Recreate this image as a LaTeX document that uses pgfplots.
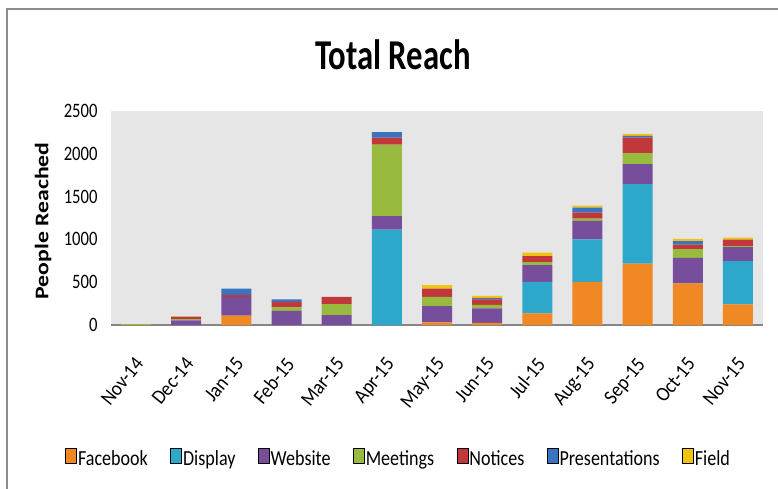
\documentclass[border=0pt]{standalone}
\usepackage{fontspec}
\usepackage{pgfplots}
\pgfplotsset{compat=1.18}
\usepackage{pgfplotstable}
\setmainfont{Carlito}
\newfontfamily\tickfont{Carlito}[FakeStretch=0.81]
\newfontfamily\xtickfont{Carlito}[FakeStretch=0.91]
\newfontfamily\legfont{Carlito}[FakeStretch=0.84]
\newfontfamily\titlefont{Carlito}[FakeStretch=0.77]
\newfontfamily\ylabfont{Carlito}[FakeStretch=1.23]

\definecolor{cFb}{RGB}{240,136,36}
\definecolor{cDi}{RGB}{46,168,202}
\definecolor{cWe}{RGB}{118,78,156}
\definecolor{cMe}{RGB}{152,186,62}
\definecolor{cNo}{RGB}{192,56,58}
\definecolor{cPr}{RGB}{58,116,192}
\definecolor{cFi}{RGB}{240,194,20}
\definecolor{plotbg}{RGB}{230,230,230}
\definecolor{axgray}{RGB}{134,134,134}

\pgfplotstableread{
x F D W M N P Fi
0 0 0 0 10 0 0 0
1 0 0 55 15 27 0 0
2 110 0 220 0 20 75 0
3 0 0 165 40 65 30 0
4 0 0 115 130 85 0 0
5 0 1113 160 835 80 65 0
6 30 0 190 110 95 0 40
7 25 0 170 40 65 15 25
8 135 370 195 35 70 0 40
9 505 495 215 28 70 58 23
10 717 930 232 128 182 20 23
11 485 0 300 100 55 40 25
12 240 505 165 12 75 0 25
}\datatable

\begin{document}
\begin{tikzpicture}[x=1pt,y=1pt]
\path[use as bounding box] (0,0) rectangle (778,488);
\draw[black!45, line width=1.2pt] (7,-20) -- (7,479) -- (800,479);
\begin{axis}[
  at={(111pt,163pt)}, anchor=south west,
  scale only axis, width=652pt, height=214pt,
  ybar stacked, bar width=30pt,
  xmin=-0.5, xmax=12.5, ymin=0, ymax=2500,
  xtick={0,...,12},
  xticklabels={Nov-14,Dec-14,Jan-15,Feb-15,Mar-15,Apr-15,May-15,Jun-15,Jul-15,Aug-15,Sep-15,Oct-15,Nov-15},
  ytick={0,500,...,2500},
  major tick length=0pt,
  axis lines*=left,
  x axis line style={axgray, line width=2pt},
  y axis line style={draw=none},
  axis background/.style={fill=plotbg},
  /pgf/number format/assume math mode=true,
  /pgf/number format/1000 sep={},
  yticklabel style={font=\fontsize{20.5}{24}\selectfont\tickfont, xshift=-10pt},
  xticklabel style={font=\fontsize{20.5}{24}\selectfont\xtickfont, inner sep=0pt,
     anchor=north east, xshift=-2pt, yshift=-31pt, rotate=51},
  title={Total Reach},
  title style={at={(axis description cs:0.4325,1.166)}, anchor=base,
     font=\fontsize{42.5}{48}\selectfont\titlefont\bfseries},
  ylabel={People Reached},
  ylabel style={at={(axis description cs:-0.1043,0.486)}, anchor=center,
     font=\fontsize{19.3}{22}\selectfont\ylabfont\bfseries},
  legend columns=-1,
  legend style={at={(axis description cs:-0.0706,-0.619)}, anchor=west,
     draw=none, fill=none, inner sep=0pt,
     font=\fontsize{21.5}{24}\selectfont\legfont,
     nodes={inner xsep=1.5pt, inner ysep=0pt},
     /tikz/every even column/.append style={column sep=20.8pt}},
  legend image code/.code={\draw[#1] (0pt,-4pt) rectangle (11pt,11pt);},
  every axis plot/.append style={draw=none},
]
\addplot[fill=cFb] table[x=x,y=F]{\datatable};
\addplot[fill=cDi] table[x=x,y=D]{\datatable};
\addplot[fill=cWe] table[x=x,y=W]{\datatable};
\addplot[fill=cMe] table[x=x,y=M]{\datatable};
\addplot[fill=cNo] table[x=x,y=N]{\datatable};
\addplot[fill=cPr] table[x=x,y=P]{\datatable};
\addplot[fill=cFi] table[x=x,y=Fi]{\datatable};
\legend{Facebook,Display,Website,Meetings,Notices,Presentations,Field}
\end{axis}
\end{tikzpicture}
\end{document}
